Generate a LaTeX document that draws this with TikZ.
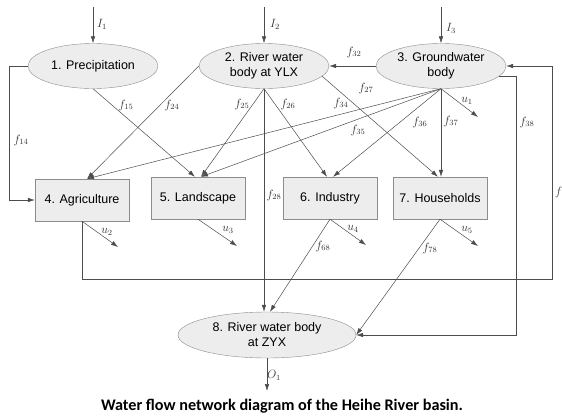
\documentclass[tikz,border=0pt]{standalone}
\usepackage{fontspec}
\setmainfont{Liberation Sans}
\newfontfamily\capfont{Carlito}
\usetikzlibrary{shapes.geometric,arrows.meta}

\begin{document}
\begin{tikzpicture}[x=1pt,y=-1pt,>={Latex[length=7pt,width=4.5pt]},
  pool/.style={ellipse,draw=black!45,fill=black!7,minimum width=130pt,minimum height=45pt,
    inner sep=0pt,align=center,font=\fontsize{12.5}{15}\selectfont},
  sector/.style={rectangle,draw=black!45,fill=black!7,minimum width=94pt,minimum height=42pt,
    inner sep=0pt,font=\fontsize{12.5}{15}\selectfont},
  flow/.style={->,draw=black!70,line width=0.5pt},
  lab/.style={font=\fontsize{12}{12}\selectfont,inner sep=0pt,text=black!80}]

\useasboundingbox (0,0) rectangle (562,416);

% water bodies and sectors
\node[pool] (e1) at (93,66) {1. Precipitation};
\node[pool] (e2) at (264,66) {2. River water\\body at YLX};
\node[pool] (e3) at (441,66) {3. Groundwater\\body};
\node[sector] (b4) at (82,200) {4. Agriculture};
\node[sector] (b5) at (198,198) {5. Landscape};
\node[sector] (b6) at (330,198) {6. Industry};
\node[sector] (b7) at (440,198) {7. Households};
\node[pool,minimum width=178pt,minimum height=46pt] (e8) at (267,335) {8. River water body\\at ZYX};

% free ends
\coordinate (i1) at (93,7);
\coordinate (i2) at (264,7);
\coordinate (i3) at (441,7);
\coordinate (u1) at (478,117);
\coordinate (u2) at (118,247);
\coordinate (u3) at (237,246);
\coordinate (u4) at (366,245);
\coordinate (u5) at (478,246);
\coordinate (o1) at (265,391);
\coordinate (ret) at (552,279);

% inputs and outputs
\draw[flow] (i1) -- (e1.north);
\draw[flow] (i2) -- (e2.north);
\draw[flow] (i3) -- (e3.north);
\draw[flow] (e3.south) -- (u1);
\draw[flow] (b4.south) -- (u2);
\draw[flow] (b5.south) -- (u3);
\draw[flow] (b6.south) -- (u4);
\draw[flow] (b7.south) -- (u5);
\draw[flow] (e8.south) -- (e8.south |- o1);

% flows
\draw[flow] (e1.west) -- ++(-19,0) |- (b4.west);
\draw[flow] (e1.south) -- ([xshift=-3pt]b5.north);
\draw[flow] (e2.west) -- ([xshift=5pt]b4.north);
\draw[flow] (e2.south) -- ([xshift=3pt]b5.north);
\draw[flow] (e2.south) -- ([xshift=-3pt]b6.north);
\draw[flow] (e2.-10) -- ([xshift=-2pt]b7.north);
\draw[flow] (e2.south) -- (e2.south |- e8.north);
\draw[flow] (e3.west) -- (e2.east);
\draw[flow] (e3.south) -- ([xshift=5pt]b4.north);
\draw[flow] (e3.south) -- ([xshift=3pt]b5.north);
\draw[flow] (e3.south) -- ([xshift=3pt]b6.north);
\draw[flow] (e3.south) -- (e3.south |- b7.north);
\draw[flow] (e3.-10) -- ++(17,0) |- (e8.east);
\draw[flow] (b4.south) |- (ret) |- (e3.east);
\draw[flow] (b6.south) -- ([xshift=3pt]e8.north);
\draw[flow] (b7.south) -- (e8.east);

% labels
\node[lab] (li1) at (102,24) {$I_1$};
\node[lab] (li2) at (275,24) {$I_2$};
\node[lab] (li3) at (451,28) {$I_3$};
\node[lab] (l14) at (21,140) {$f_{14}$};
\node[lab] (l15) at (126,105) {$f_{15}$};
\node[lab] (l24) at (172,105) {$f_{24}$};
\node[lab] (l25) at (242,104) {$f_{25}$};
\node[lab] (l26) at (288,104) {$f_{26}$};
\node[lab] (l27) at (366,88) {$f_{27}$};
\node[lab] (l28) at (274,195) {$f_{28}$};
\node[lab] (l32) at (354,52) {$f_{32}$};
\node[lab] (l34) at (341,103) {$f_{34}$};
\node[lab] (l35) at (358,130) {$f_{35}$};
\node[lab] (l36) at (420,122) {$f_{36}$};
\node[lab] (l37) at (451,121) {$f_{37}$};
\node[lab] (l38) at (527,122) {$f_{38}$};
\node[lab,anchor=west] (l4x) at (555,192) {$f$};
\node[lab] (l68) at (323,246) {$f_{68}$};
\node[lab] (l78) at (430,248) {$f_{78}$};
\node[lab] (lu1) at (467,101) {$u_1$};
\node[lab] (lu2) at (107,232) {$u_2$};
\node[lab] (lu3) at (228,230) {$u_3$};
\node[lab] (lu4) at (353,229) {$u_4$};
\node[lab] (lu5) at (467,230) {$u_5$};
\node[lab] (lo1) at (274,375) {$O_1$};

\node[font=\capfont\bfseries\fontsize{16.2}{17}\selectfont] (cap) at (282,406)
  {Water flow network diagram of the Heihe River basin.};
\end{tikzpicture}
\end{document}
